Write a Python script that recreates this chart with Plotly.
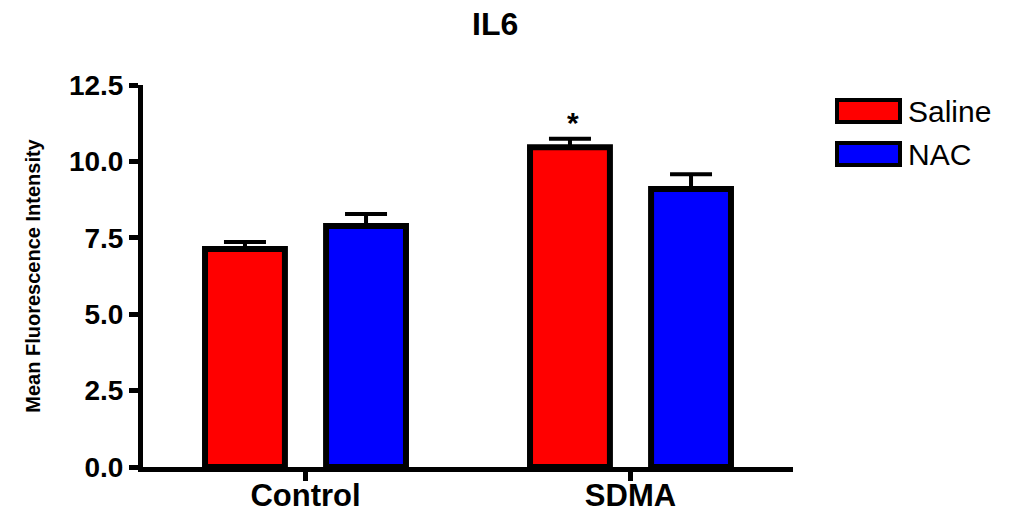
import plotly.graph_objects as go

groups = ["Control", "SDMA"]
saline = [7.13, 10.46]
saline_err = [0.23, 0.28]
nac = [7.89, 9.10]
nac_err = [0.39, 0.48]
y_ticks = [0.0, 2.5, 5.0, 7.5, 10.0, 12.5]
y_tick_labels = ["0.0", "2.5", "5.0", "7.5", "10.0", "12.5"]

FONT = "Liberation Sans, Arial, Helvetica, sans-serif"

fig = go.Figure()
for name, vals, errs, color in [("Saline", saline, saline_err, "#FF0000"),
                                ("NAC", nac, nac_err, "#0000FF")]:
    fig.add_trace(go.Bar(
        x=groups, y=vals, name=name,
        marker=dict(color=color, line=dict(color="black", width=6)),
        error_y=dict(type="data", array=errs, arrayminus=[0] * len(errs),
                     symmetric=False, color="black", thickness=4, width=21),
        showlegend=False,
    ))

L, R, T, B = 143, 216, 85, 48
W, H = 1009, 515
pw, ph = W - L - R, H - T - B

def px(x):
    return (x - L) / pw

def py(y):
    return (H - B - y) / ph

# manual legend (large swatches like the original)
legend_items = [("Saline", "#FF0000", 100, 122), ("NAC", "#0000FF", 143, 165)]
for label, color, y0, y1 in legend_items:
    fig.add_shape(type="rect", xref="paper", yref="paper",
                  x0=px(837), x1=px(900), y0=py(y1), y1=py(y0),
                  fillcolor=color, line=dict(color="black", width=4))
    fig.add_annotation(xref="paper", yref="paper", x=px(906), y=py((y0 + y1) / 2),
                       text=label, showarrow=False, xanchor="left", yanchor="middle",
                       font=dict(family=FONT, size=30, color="black"))

# significance marker
fig.add_annotation(x="SDMA", y=saline[1] + saline_err[1], xref="x", yref="y",
                   text="*", showarrow=False, xshift=-58, yshift=-2,
                   yanchor="bottom",
                   font=dict(family=FONT, size=30, color="black", weight="bold"))

fig.update_layout(
    width=W, height=H,
    margin=dict(l=L, r=R, t=T, b=B, autoexpand=False),
    paper_bgcolor="white", plot_bgcolor="white",
    barmode="group", bargap=0.255, bargroupgap=0.34,
    title=dict(text="IL6", x=px(462), xanchor="center", y=1 - 24 / H, yanchor="middle",
               font=dict(family=FONT, size=32, color="black", weight="bold")),
)
fig.update_xaxes(
    range=[-0.5, 1.5], showline=True, linecolor="black", linewidth=5,
    ticks="outside", ticklen=9, tickwidth=5, tickcolor="black",
    ticklabelstandoff=-12,
    tickfont=dict(family=FONT, size=31, color="black", weight="bold"),
    showgrid=False, zeroline=False,
)
fig.update_yaxes(
    range=[0, 12.5], tickvals=y_ticks, ticktext=y_tick_labels,
    showline=True, linecolor="black", linewidth=5,
    ticks="outside", ticklen=9, tickwidth=5, tickcolor="black",
    tickfont=dict(family=FONT, size=28, color="black", weight="bold"),
    showgrid=False, zeroline=False,
    title=dict(text="Mean Fluorescence Intensity", standoff=24,
               font=dict(family=FONT, size=20, color="black", weight="bold")),
)

fig.write_html("out.html")
